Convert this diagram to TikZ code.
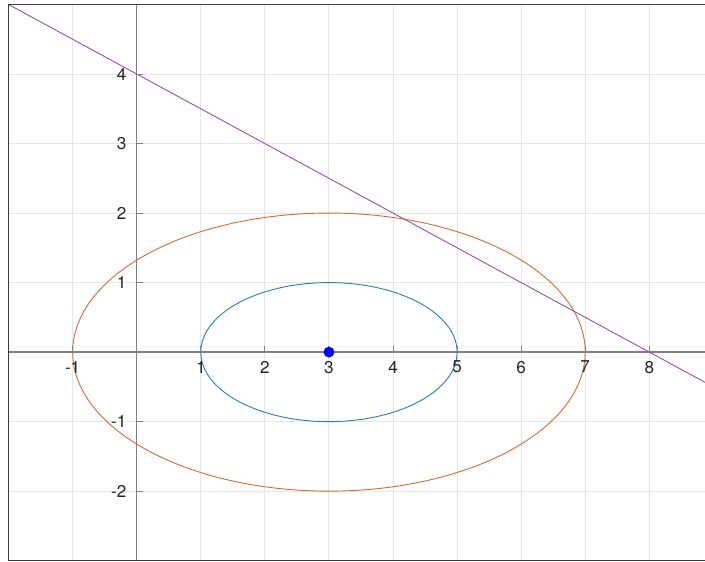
\documentclass[tikz,border=0pt]{standalone}
\usepackage{fontspec}
\setmainfont{TeX Gyre Heros}
\definecolor{frameInk}{HTML}{3C3C3C}
\definecolor{axisInk}{HTML}{808080}
\definecolor{gridInk}{HTML}{E6E6E6}
\definecolor{labelInk}{HTML}{262626}
\definecolor{smallCurve}{HTML}{2A7DB5}
\definecolor{bigCurve}{HTML}{D56A3A}
\definecolor{lineCurve}{HTML}{8E56A0}
\definecolor{centreDot}{HTML}{0000FF}

\begin{document}
\begin{tikzpicture}[
    x=1cm, y=1.085cm,
    every node/.style={font=\fontsize{7.6}{9}\selectfont, text=labelInk},
    gridline/.style={draw=gridInk, line width=0.45pt},
    axisline/.style={draw=axisInk, line width=0.55pt},
    tickmark/.style={draw=axisInk, line width=0.45pt},
    frameline/.style={draw=frameInk, line width=0.6pt},
    curve/.style={line width=0.4pt},
    xlabel/.style={anchor=north, inner sep=1pt},
    ylabel/.style={anchor=east, inner sep=1pt},
]

\useasboundingbox (-2.134,-3.007) rectangle (8.869,5.065);

% --- plotting area ---
\coordinate (plotSW) at (-2,-3);
\coordinate (plotNE) at (8.869,5);

\begin{scope}
\clip (plotSW) rectangle (plotNE);

% --- grid ---
\foreach \gx in {-1,...,8}
    \draw[gridline] (\gx,-3) -- (\gx,5);
\foreach \gy in {-2,...,4}
    \draw[gridline] (-2,\gy) -- (8.869,\gy);

% --- axes ---
\draw[axisline] (-2,0) -- (8.869,0);
\draw[axisline] (0,-3) -- (0,5);

% --- curves ---
\draw[curve, draw=bigCurve]   (3,0) ellipse [x radius=4, y radius=2];
\draw[curve, draw=smallCurve] (3,0) ellipse [x radius=2, y radius=1];
\draw[curve, draw=lineCurve]  (-2,5) -- (9,-0.5);
\end{scope}

% --- ticks and labels ---
\foreach \gx in {-1,1,2,...,8} {
    \draw[tickmark] (\gx,0) -- ++(0,0.09);
    \node[xlabel] (xlab\gx) at (\gx,-0.09) {\gx};
}
\foreach \gy in {-2,-1,1,2,3,4} {
    \draw[tickmark] (0,\gy) -- ++(0.1,0);
    \node[ylabel] (ylab\gy) at (-0.12,\gy) {\gy};
}

% --- centre point ---
\fill[centreDot] (3,0) circle [radius=0.085cm];

% --- frame (left, top, bottom) ---
\draw[frameline] (8.869,5) -- (-2,5) -- (-2,-3) -- (8.869,-3);

\end{tikzpicture}
\end{document}
